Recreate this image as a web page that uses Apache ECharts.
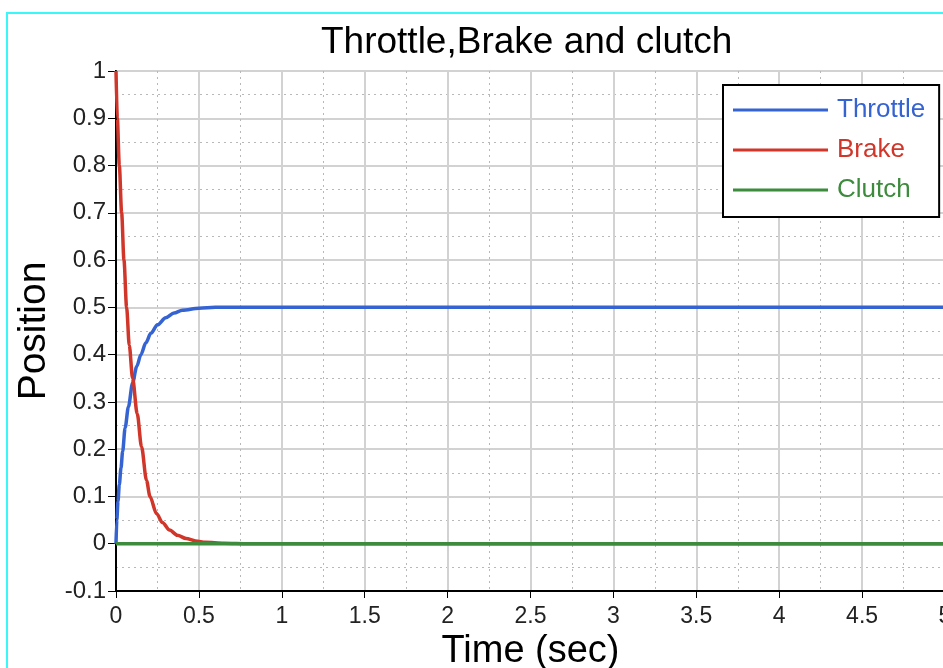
<!DOCTYPE html>
<html>
<head>
<meta charset="utf-8">
<script src="https://cdn.jsdelivr.net/npm/echarts@6/dist/echarts.min.js"></script>
<style>
html,body{margin:0;padding:0;background:#fff;}
#chart{width:943px;height:668px;}
</style>
</head>
<body>
<div id="chart"></div>
<script>
// ---- data ----
const titleText = 'Throttle,Brake and clutch';
const xName = 'Time (sec)';
const yName = 'Position';
const seriesNames = ['Throttle', 'Brake', 'Clutch'];

const throttleT = [0, 0.005, 0.012, 0.02, 0.03, 0.04, 0.055, 0.075, 0.1, 0.125, 0.15, 0.18, 0.21, 0.25, 0.3, 0.35, 0.4, 0.5, 0.6, 1, 2, 3, 4, 5];
const throttleV = [0, 0.05, 0.09, 0.125, 0.16, 0.195, 0.245, 0.29, 0.34, 0.375, 0.4, 0.425, 0.445, 0.463, 0.478, 0.488, 0.494, 0.498, 0.5, 0.5, 0.5, 0.5, 0.5, 0.5];

const brakeT = [0, 0.008, 0.02, 0.034, 0.048, 0.064, 0.08, 0.1, 0.128, 0.154, 0.184, 0.205, 0.244, 0.28, 0.323, 0.37, 0.423, 0.48, 0.54, 0.65, 0.8, 1, 5];
const brakeV = [1, 0.9, 0.8, 0.7, 0.6, 0.5, 0.42, 0.35, 0.275, 0.205, 0.134, 0.1, 0.064, 0.045, 0.029, 0.018, 0.011, 0.006, 0.003, 0.001, 0, 0, 0];

const clutchT = [0, 5];
const clutchV = [0, 0];

const colors = ['#3563d2', '#d0362a', '#3d8b3d'];

function pairs(t, v) { return t.map((x, i) => [x, v[i]]); }

const chart = echarts.init(document.getElementById('chart'));
const lineCommon = { type: 'line', showSymbol: false, symbol: 'none', smooth: 0.3, smoothMonotone: 'x', lineStyle: { width: 3.5 } };

chart.setOption({
  backgroundColor: '#fff',
  animation: false,
  title: {
    text: titleText,
    left: 316,
    top: 19,
    textStyle: { fontFamily: 'Liberation Sans', fontSize: 37, fontWeight: 'normal', color: '#000' }
  },
  graphic: [
    { type: 'rect', shape: { x: 7, y: 13, width: 1000, height: 1000 }, style: { fill: 'none', stroke: '#3cf7f7', lineWidth: 2 }, silent: true, z: -1 }
  ],
  legend: {
    orient: 'vertical',
    left: 723,
    top: 85,
    padding: [10, 14, 12, 10],
    itemGap: 10,
    itemWidth: 95,
    itemHeight: 3,
    icon: 'rect',
    backgroundColor: '#fff',
    borderColor: '#000',
    borderWidth: 2,
    borderRadius: 0,
    textStyle: { fontFamily: 'Liberation Sans', fontSize: 26, lineHeight: 30, padding: [0, 0, 0, 4] },
    data: seriesNames.map((n, i) => ({ name: n, textStyle: { color: colors[i] } }))
  },
  grid: {
    left: 116, top: 71, width: 829, height: 520,
    outerBoundsMode: 'none',
    containLabel: false,
    show: true, borderColor: '#000', borderWidth: 2, backgroundColor: 'transparent'
  },
  xAxis: {
    type: 'value',
    min: 0, max: 5, interval: 0.5,
    name: xName,
    nameLocation: 'middle',
    nameGap: 41,
    nameTextStyle: { fontFamily: 'Liberation Sans', fontSize: 38, color: '#000' },
    axisLine: { onZero: false, lineStyle: { color: '#000', width: 2 } },
    axisTick: { show: true, length: 7, lineStyle: { color: '#000', width: 1 } },
    axisLabel: { margin: 14, fontFamily: 'Liberation Sans', fontSize: 23, color: '#222' },
    splitLine: { show: true, lineStyle: { color: '#d2d2d2', width: 2 } },
    minorTick: { show: false, splitNumber: 2 },
    minorSplitLine: { show: true, lineStyle: { color: '#b8b8b8', width: 1, type: [2, 4] } }
  },
  yAxis: {
    type: 'value',
    min: -0.1, max: 1, interval: 0.1,
    name: yName,
    nameLocation: 'middle',
    nameGap: 57,
    nameRotate: 90,
    nameTextStyle: { fontFamily: 'Liberation Sans', fontSize: 39, color: '#000' },
    axisLine: { show: true, onZero: false, lineStyle: { color: '#000', width: 2 } },
    axisTick: { show: true, length: 8, lineStyle: { color: '#000', width: 1 } },
    axisLabel: { margin: 10, fontFamily: 'Liberation Sans', fontSize: 24, color: '#222' },
    splitLine: { show: true, lineStyle: { color: '#d2d2d2', width: 2 } },
    minorTick: { show: false, splitNumber: 2 },
    minorSplitLine: { show: true, lineStyle: { color: '#b8b8b8', width: 1, type: [2, 4] } }
  },
  series: [
    Object.assign({}, lineCommon, { name: seriesNames[0], color: colors[0], data: pairs(throttleT, throttleV) }),
    Object.assign({}, lineCommon, { name: seriesNames[1], color: colors[1], data: pairs(brakeT, brakeV) }),
    Object.assign({}, lineCommon, { name: seriesNames[2], color: colors[2], data: pairs(clutchT, clutchV) })
  ]
});
</script>
</body>
</html>
